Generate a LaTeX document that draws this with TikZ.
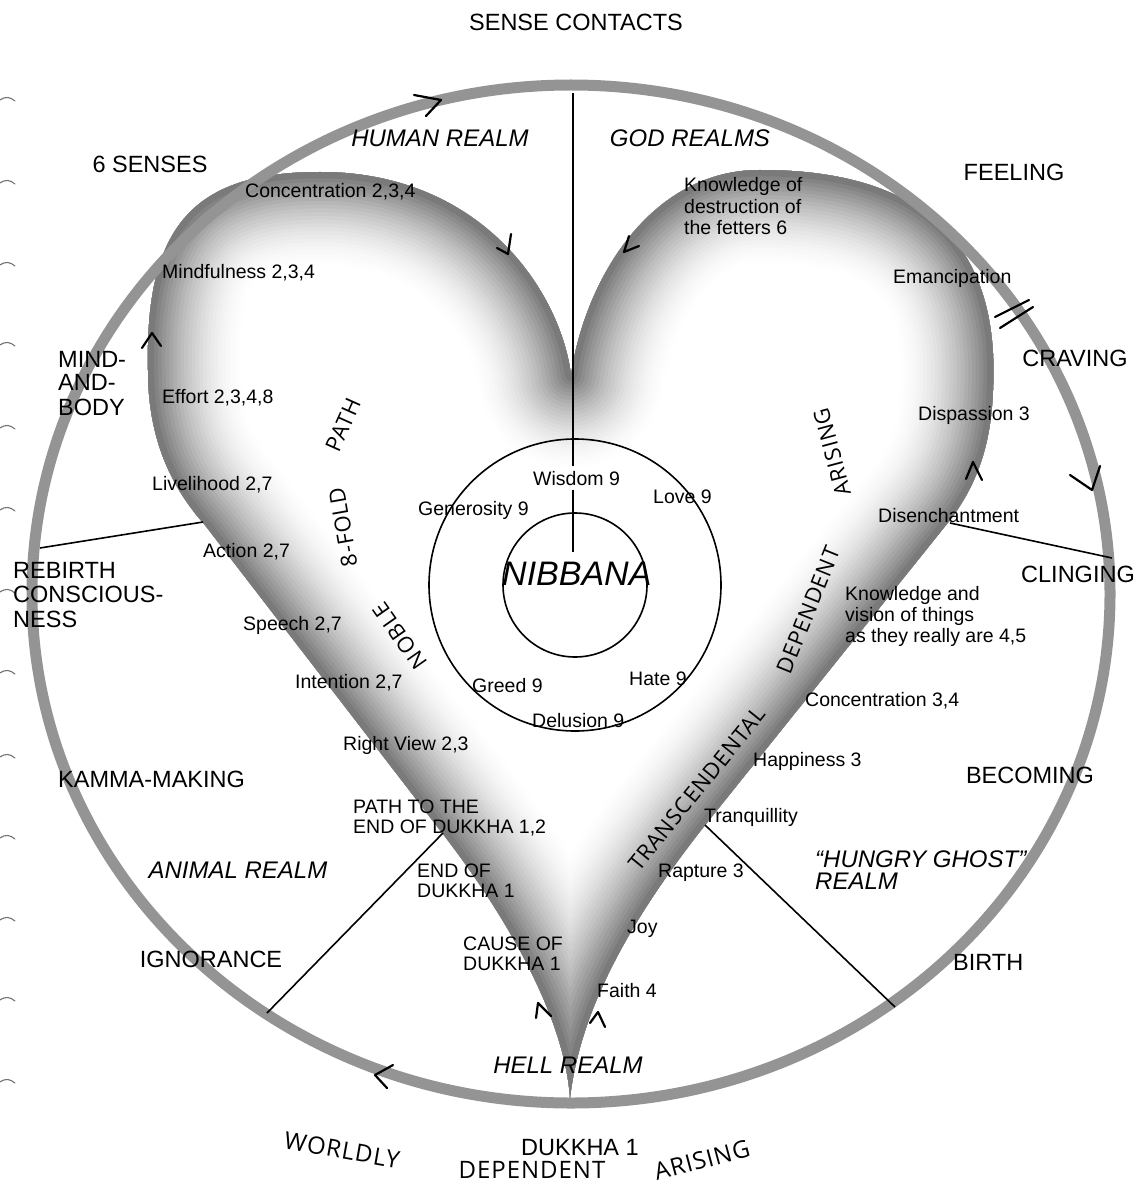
\documentclass[tikz,border=0pt]{standalone}
\usepackage{fontspec}
\setmainfont{Liberation Sans}
\newfontfamily\handfont[LetterSpace=4]{Open Sans}
\begin{document}
\begin{tikzpicture}[x=1pt,y=-1pt,
  big/.style={font=\fontsize{23.5}{26}\selectfont, inner sep=0pt},
  bigit/.style={font=\fontsize{24}{26}\selectfont\itshape, inner sep=0pt},
  small/.style={font=\fontsize{19.5}{21}\selectfont, inner sep=0pt},
  nib/.style={font=\fontsize{34}{36}\selectfont\itshape, inner sep=0pt},
  hand/.style={font=\fontsize{22}{24}\selectfont\handfont, inner sep=0pt},
  handbig/.style={font=\fontsize{24}{26}\selectfont\handfont, inner sep=0pt},
  spoke/.style={line width=1.6pt, draw=black},
  chev/.style={line width=2.2pt, draw=black, line cap=round, line join=round},
  ringline/.style={line width=11pt, draw=black!42},
  margin/.style={line width=1.1pt, draw=black!55, line cap=round},
]
\fill[white] (0,0) rectangle (1140,1185);
\useasboundingbox (0,0) rectangle (1140,1185);

% ---------- heart with shaded rim ----------
\def\heartpath{(571,375) .. controls (560,290) and (480,172) .. (320,172)
 .. controls (190,172) and (145,230) .. (148,370)
 .. controls (148,440) and (172,488) .. (205,525)
 -- (440,830) .. controls (510,920) and (565,1020) .. (570,1098)
 .. controls (580,1010) and (630,920) .. (705,825)
 -- (950,520) .. controls (980,480) and (991,440) .. (993,390)
 .. controls (1000,250) and (930,170) .. (760,170)
 .. controls (650,170) and (585,280) .. (571,375) -- cycle}
\begin{scope}
  \clip \heartpath;
  \foreach \i in {0,...,25}{
    \pgfmathsetmacro\lw{200-7.5*\i}
    \pgfmathsetmacro\cc{52*(\i/25)^1.8}
    \draw[line width=\lw pt, draw=black!\cc, line join=round] \heartpath;
  }
\end{scope}

% ---------- outer ring ----------
\draw[ringline] (571,594) ellipse[x radius=539pt, y radius=509pt];

% ---------- margin marks ----------
\foreach \yy in {100,183,265,345,428,510,592,673,757,838,920,1000,1082}
  \draw[margin] (0,\yy) .. controls (6,\yy-4) and (10,\yy-3) .. (15,\yy+1);

% ---------- inner circles ----------
\node[draw, circle, minimum size=292pt, inner sep=0pt, line width=1.6pt] (bigc) at (575,585) {};
\node[draw, circle, minimum size=144pt, inner sep=0pt, line width=1.6pt] (smallc) at (575,585) {};

% ---------- connector end points ----------
\coordinate (topend) at (573,93);
\coordinate (wisA) at (573,466);
\coordinate (wisB) at (573,490);
\coordinate (nibtop) at (573,552);
\coordinate (rbR) at (40,548);
\coordinate (rbH) at (203,522);
\coordinate (clR) at (1112,558);
\coordinate (clH) at (950,523);
\coordinate (igR) at (267,1013);
\coordinate (igH) at (443,833);
\coordinate (biR) at (895,1007);
\coordinate (biH) at (705,825);

\draw[spoke] (topend) -- (wisA);
\draw[spoke] (wisB) -- (nibtop);
\draw[spoke] (rbR) -- (rbH);
\draw[spoke] (clR) -- (clH);
\draw[spoke] (igR) -- (igH);
\draw[spoke] (biR) -- (biH);

% ---------- large outer labels ----------
\node[big, anchor=base] (sense) at (576,31) {SENSE CONTACTS};
\node[big, anchor=base] (six) at (150,173) {6 SENSES};
\node[big, anchor=base] (feel) at (1014,181) {FEELING};
\node[bigit, anchor=base] (human) at (440,147) {HUMAN REALM};
\node[bigit, anchor=base] (god) at (690,147) {GOD REALMS};
\node[big, anchor=base west] (mind1) at (58,367) {MIND-};
\node[big, anchor=base west] (mind2) at (58,390) {AND-};
\node[big, anchor=base west] (mind3) at (58,415) {BODY};
\node[big, anchor=base] (crav) at (1075,366) {CRAVING};
\node[big, anchor=base west] (reb1) at (13,578) {REBIRTH};
\node[big, anchor=base west] (reb2) at (13,602) {CONSCIOUS-};
\node[big, anchor=base west] (reb3) at (13,627) {NESS};
\node[big, anchor=base] (cling) at (1078,582) {CLINGING};
\node[big, anchor=base west] (kamma) at (58,787) {KAMMA-MAKING};
\node[big, anchor=base] (becom) at (1030,783) {BECOMING};
\node[bigit, anchor=base] (animal) at (238,878) {ANIMAL REALM};
\node[bigit, anchor=base west] (hungry1) at (815,867) {“HUNGRY GHOST”};
\node[bigit, anchor=base west] (hungry2) at (815,889) {REALM};
\node[big, anchor=base] (ignor) at (211,967) {IGNORANCE};
\node[big, anchor=base west] (birth) at (953,970) {BIRTH};
\node[bigit, anchor=base] (hell) at (568,1073) {HELL REALM};
\node[big, anchor=base] (dukkha) at (580,1155) {DUKKHA 1};

% ---------- small labels ----------
\node[small, anchor=base west] (conc) at (245,197) {Concentration 2,3,4};
\node[small, anchor=base west] (kn1) at (684,192) {Knowledge of};
\node[small, anchor=base west] (kn2) at (684,213) {destruction of};
\node[small, anchor=base west] (kn3) at (684,234) {the fetters 6};
\node[small, anchor=base west] (mindf) at (162,278) {Mindfulness 2,3,4};
\node[small, anchor=base west] (eman) at (893,283) {Emancipation};
\node[small, anchor=base west] (effort) at (162,403) {Effort 2,3,4,8};
\node[small, anchor=base west] (dispa) at (918,420) {Dispassion 3};
\node[small, anchor=base west] (liveli) at (152,490) {Livelihood 2,7};
\node[small, anchor=base west] (wisdom) at (533,485) {Wisdom 9};
\node[small, anchor=base west] (love) at (653,503) {Love 9};
\node[small, anchor=base west] (gener) at (418,515) {Generosity 9};
\node[small, anchor=base west] (disen) at (878,522) {Disenchantment};
\node[small, anchor=base west] (action) at (203,557) {Action 2,7};
\node[small, anchor=base west] (kv1) at (845,600) {Knowledge and};
\node[small, anchor=base west] (kv2) at (845,621) {vision of things};
\node[small, anchor=base west] (kv3) at (845,642) {as they really are 4,5};
\node[small, anchor=base west] (speech) at (243,630) {Speech 2,7};
\node[small, anchor=base west] (greed) at (472,692) {Greed 9};
\node[small, anchor=base west] (hate) at (629,685) {Hate 9};
\node[small, anchor=base west] (inten) at (295,688) {Intention 2,7};
\node[small, anchor=base west] (conc2) at (805,706) {Concentration 3,4};
\node[small, anchor=base west] (delus) at (532,727) {Delusion 9};
\node[small, anchor=base west] (rview) at (343,750) {Right View 2,3};
\node[small, anchor=base west] (happy) at (753,766) {Happiness 3};
\node[small, anchor=base west] (pt1) at (353,813) {PATH TO THE};
\node[small, anchor=base west] (pt2) at (353,833) {END OF DUKKHA 1,2};
\node[small, anchor=base west] (tranq) at (704,822) {Tranquillity};
\node[small, anchor=base west] (eo1) at (417,877) {END OF};
\node[small, anchor=base west] (eo2) at (417,897) {DUKKHA 1};
\node[small, anchor=base west] (rapt) at (658,877) {Rapture 3};
\node[small, anchor=base west] (joy) at (627,933) {Joy};
\node[small, anchor=base west] (co1) at (463,950) {CAUSE OF};
\node[small, anchor=base west] (co2) at (463,970) {DUKKHA 1};
\node[small, anchor=base west] (faith) at (597,997) {Faith 4};
\node[nib, anchor=base west] (nibbana) at (502,585) {NIBBANA};

% ---------- handwriting ----------
\node[hand, rotate=125] (noble) at (400,636) {NOBLE};
\node[hand, rotate=100] (fold) at (343,527) {8-FOLD};
\node[hand, rotate=66] (pathw) at (343,425) {PATH};
\node[hand, rotate=51] (trans) at (697,789) {TRANSCENDENTAL};
\node[hand, rotate=68] (depw) at (808,610) {DEPENDENT};
\node[hand, rotate=105] (arisw) at (832,452) {ARISING};
\node[handbig, rotate=-10] (world) at (342,1150) {WORLDLY};
\node[handbig] (dep2) at (532,1170) {DEPENDENT};
\node[handbig, rotate=15] (aris2) at (702,1160) {ARISING};

% ---------- hand-drawn arrow marks ----------
\draw[chev] (414,95) -- (441,100) -- (426,116);
\draw[chev] (511,234) -- (508,254) -- (497,248);
\draw[chev] (629,236) -- (624,252) -- (639,246);
\draw[chev] (142,348) -- (152,333) -- (161,346);
\draw[chev] (1070,475) -- (1092,490) -- (1100,466);
\draw[chev] (966,479) -- (973,462) -- (982,480);
\draw[chev] (393,1065) -- (375,1075) -- (387,1088);
\draw[chev] (536,1018) -- (538,1003) -- (551,1016);
\draw[chev] (590,1023) -- (598,1012) -- (605,1027);
\draw[chev] (995,317) -- (1029,300);
\draw[chev] (1000,328) -- (1033,307);
\end{tikzpicture}
\end{document}
